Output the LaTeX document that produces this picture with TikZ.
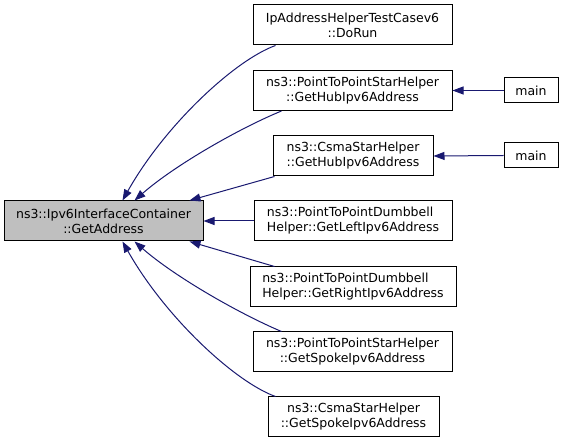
\documentclass[tikz,border=0pt]{standalone}
\usepackage{fontspec}
\setmainfont{DejaVu Sans}
\usetikzlibrary{arrows.meta}
\definecolor{edgeblue}{HTML}{191970}
\definecolor{hl}{HTML}{BFBFBF}
\tikzset{
  box/.style={draw=black, line width=1pt, fill=white, minimum height=40pt, inner sep=0pt,
    align=center, font=\fontsize{12.5}{15}\selectfont},
  lbox/.style={box, align=left},
  sbox/.style={box, minimum height=25pt},
  edge/.style={draw=edgeblue, line width=1pt, -{Triangle[length=11pt,width=8pt]}},
}
\begin{document}
\begin{tikzpicture}[x=1pt,y=-1pt]
\useasboundingbox (0,0) rectangle (565,443);
\node[box, fill=hl, minimum width=199pt] (ga) at (103.5,221) {ns3::Ipv6InterfaceContainer\\::GetAddress};
\node[box, minimum width=199pt] (dorun) at (352.5,25) {IpAddressHelperTestCasev6\\::DoRun};
\node[box, minimum width=199pt] (phub) at (352.5,90.5) {ns3::PointToPointStarHelper\\::GetHubIpv6Address};
\node[box, minimum width=160pt] (chub) at (353,156) {ns3::CsmaStarHelper\\::GetHubIpv6Address};
\node[lbox, minimum width=198pt] (left) at (353,221) {ns3::PointToPointDumbbell\\Helper::GetLeftIpv6Address};
\node[lbox, minimum width=206pt] (right) at (353,287) {ns3::PointToPointDumbbell\\Helper::GetRightIpv6Address};
\node[box, minimum width=199pt] (pspoke) at (352.5,352) {ns3::PointToPointStarHelper\\::GetSpokeIpv6Address};
\node[box, minimum width=171pt] (cspoke) at (353.5,417) {ns3::CsmaStarHelper\\::GetSpokeIpv6Address};
\node[sbox, minimum width=54pt] (main1) at (531,90.5) {main};
\node[sbox, minimum width=54pt] (main2) at (531,155.5) {main};

\draw[edge] ([xshift=23pt]dorun.south west) .. controls (235,60) and (165,125) .. ([xshift=119pt]ga.north west);
\draw[edge] ([xshift=29pt]phub.south west) .. controls (240,128) and (175,165) .. ([xshift=131pt]ga.north west);
\draw[edge] ([xshift=2pt]chub.south west) -- ([xshift=186pt]ga.north west);
\draw[edge] (left.west) -- (ga.east);
\draw[edge] ([xshift=25pt]right.north west) -- ([xshift=186pt]ga.south west);
\draw[edge] ([xshift=29pt]pspoke.north west) .. controls (240,314) and (175,277) .. ([xshift=131pt]ga.south west);
\draw[edge] ([xshift=8pt]cspoke.north west) .. controls (235,382) and (165,317) .. ([xshift=119pt]ga.south west);
\draw[edge] (main1.west) -- (phub.east);
\draw[edge] (main2.west) -- (chub.east);
\end{tikzpicture}
\end{document}
